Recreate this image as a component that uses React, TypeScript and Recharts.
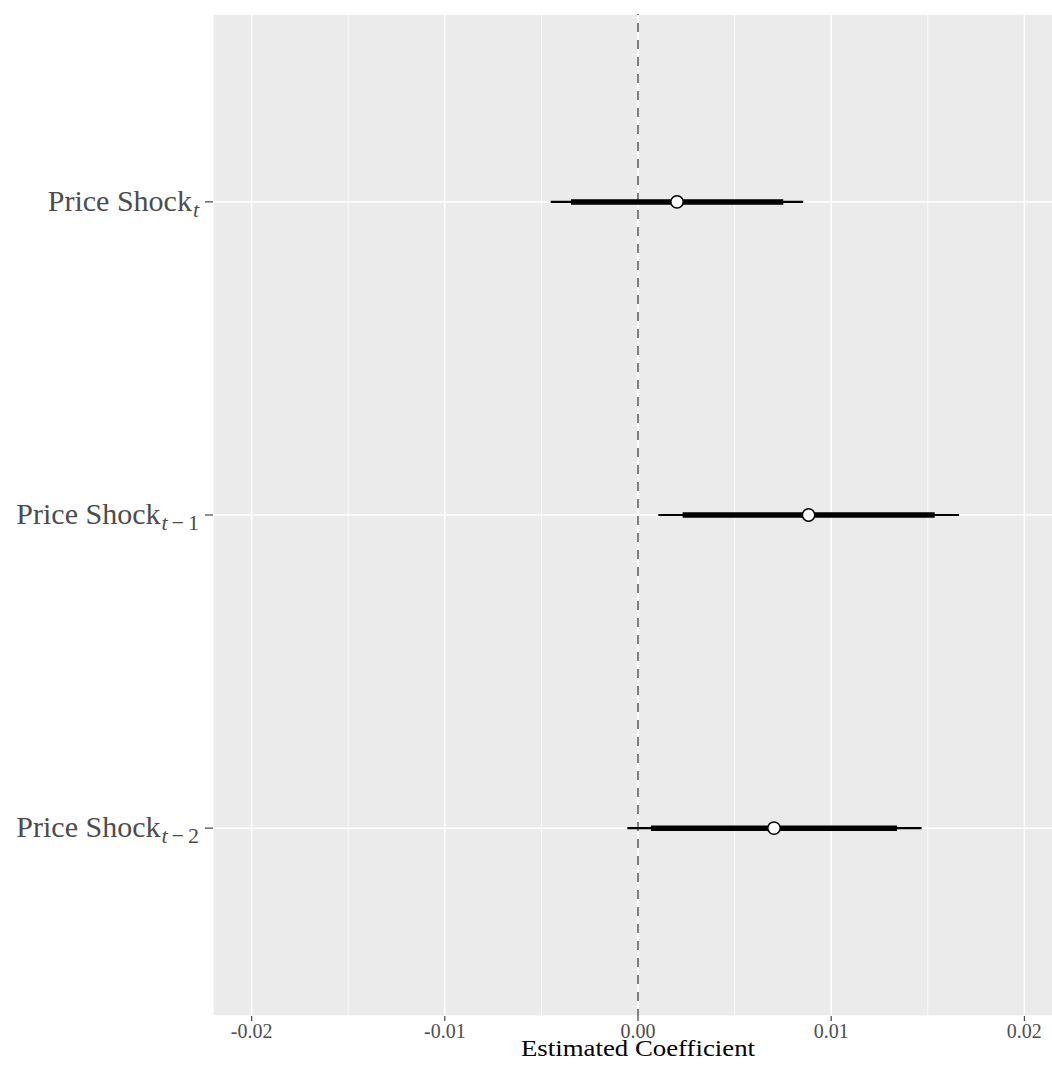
import React from "react";
import {
  ComposedChart,
  XAxis,
  YAxis,
  CartesianGrid,
  ReferenceLine,
  Scatter,
} from "recharts";

// ---- data ----
const subscriptVars = ["t", "t", "t"]; // italic part of each subscript
const subscriptLags = ["", "\u22121", "\u22122"]; // upright part of each subscript
const categoryPositions = [1, 2, 3];
const estimates = [0.00202, 0.00883, 0.00704];
const ci90Low = [-0.00347, 0.00231, 0.00067];
const ci90High = [0.00752, 0.01536, 0.01341];
const ci95Low = [-0.00452, 0.00105, -0.00055];
const ci95High = [0.00855, 0.01662, 0.01468];
const xTicks = [-0.02, -0.01, 0, 0.01, 0.02];
const xMinorTicks = [-0.015, -0.005, 0.005, 0.015];
const xDomain = [-0.022, 0.022];
const yDomain = [0.4, 3.6];

const pointData = estimates.map((v, i) => ({ x: v, y: categoryPositions[i] }));

const FONT = "'Liberation Serif', 'Times New Roman', serif";

const YTick = (props: any) => {
  const { x, y, payload } = props;
  const idx = categoryPositions.indexOf(payload.value);
  const axisX = x + 8;
  const lag = subscriptLags[idx] ?? "";
  return (
    <g>
      <line x1={axisX - 8} x2={axisX} y1={y} y2={y} stroke="#333333" strokeWidth={1.1} />
      <text
        x={axisX - 14}
        y={y + 9}
        textAnchor="end"
        fill="#4D4D4D"
        fontFamily={FONT}
        fontSize={30}
      >
        <tspan>Price Shock</tspan>
        <tspan fontSize={22} fontStyle="italic" dy={6} dx={1}>
          {subscriptVars[idx]}
        </tspan>
        {lag ? (
          <>
            <tspan fontSize={22} dx={4}>
              {lag.charAt(0)}
            </tspan>
            <tspan fontSize={22} dx={4}>
              {lag.slice(1)}
            </tspan>
          </>
        ) : null}
      </text>
    </g>
  );
};

const XTick = (props: any) => {
  const { x, y, payload } = props;
  const axisY = y - 8;
  return (
    <g>
      <line x1={x} x2={x} y1={axisY} y2={axisY + 5} stroke="#333333" strokeWidth={1.1} />
      <text
        x={x}
        y={axisY + 22}
        textAnchor="middle"
        fill="#4D4D4D"
        fontFamily={FONT}
        fontSize={20}
      >
        {Number(payload.value).toFixed(2)}
      </text>
    </g>
  );
};

const XTitle = (props: any) => {
  const vb = props.viewBox || {};
  const cx = vb.x + vb.width / 2;
  return (
    <text
      x={cx}
      y={1048}
      textAnchor="middle"
      fill="#000000"
      fontFamily={FONT}
      fontSize={23}
      textLength={234}
      lengthAdjust="spacingAndGlyphs"
    >
      Estimated Coefficient
    </text>
  );
};

export default function App() {
  return (
    <>
      <style>{`html, body { overflow: hidden; }`}</style>
      <div
        style={{
          position: "absolute",
          left: 8,
          top: 8,
          width: 1044,
          height: 1057,
          overflow: "hidden",
        }}
      >
        <ComposedChart
          width={1055}
          height={1057}
          margin={{ top: 6, right: 0, bottom: 7, left: 0 }}
        >
          <CartesianGrid
            fill="#EBEBEB"
            stroke="#FFFFFF"
            strokeWidth={1.5}
            strokeDasharray=""
          />
          <XAxis
            type="number"
            dataKey="x"
            domain={xDomain}
            ticks={xTicks}
            allowDataOverflow
            axisLine={false}
            tickLine={false}
            tick={<XTick />}
            height={42}
            interval={0}
            label={<XTitle />}
          />
          <YAxis
            type="number"
            dataKey="y"
            domain={yDomain}
            ticks={categoryPositions}
            reversed
            allowDataOverflow
            axisLine={false}
            tickLine={false}
            tick={<YTick />}
            width={205}
            interval={0}
          />
          {xMinorTicks.map((v) => (
            <ReferenceLine key={"m" + v} x={v} stroke="#FFFFFF" strokeWidth={0.75} />
          ))}
          <ReferenceLine
            x={0}
            stroke="#7F7F7F"
            strokeWidth={2}
            strokeDasharray="9 8"
            strokeDashoffset={2}
          />
          {estimates.map((_, i) => (
            <ReferenceLine
              key={"c95" + i}
              segment={[
                { x: ci95Low[i], y: categoryPositions[i] },
                { x: ci95High[i], y: categoryPositions[i] },
              ]}
              stroke="#000000"
              strokeWidth={2.2}
            />
          ))}
          {estimates.map((_, i) => (
            <ReferenceLine
              key={"c90" + i}
              segment={[
                { x: ci90Low[i], y: categoryPositions[i] },
                { x: ci90High[i], y: categoryPositions[i] },
              ]}
              stroke="#000000"
              strokeWidth={5.5}
            />
          ))}
          <Scatter
            data={pointData}
            isAnimationActive={false}
            shape={(p: any) => (
              <circle cx={p.cx} cy={p.cy} r={6.2} fill="#FFFFFF" stroke="#000000" strokeWidth={1.5} />
            )}
          />
        </ComposedChart>
      </div>
    </>
  );
}
